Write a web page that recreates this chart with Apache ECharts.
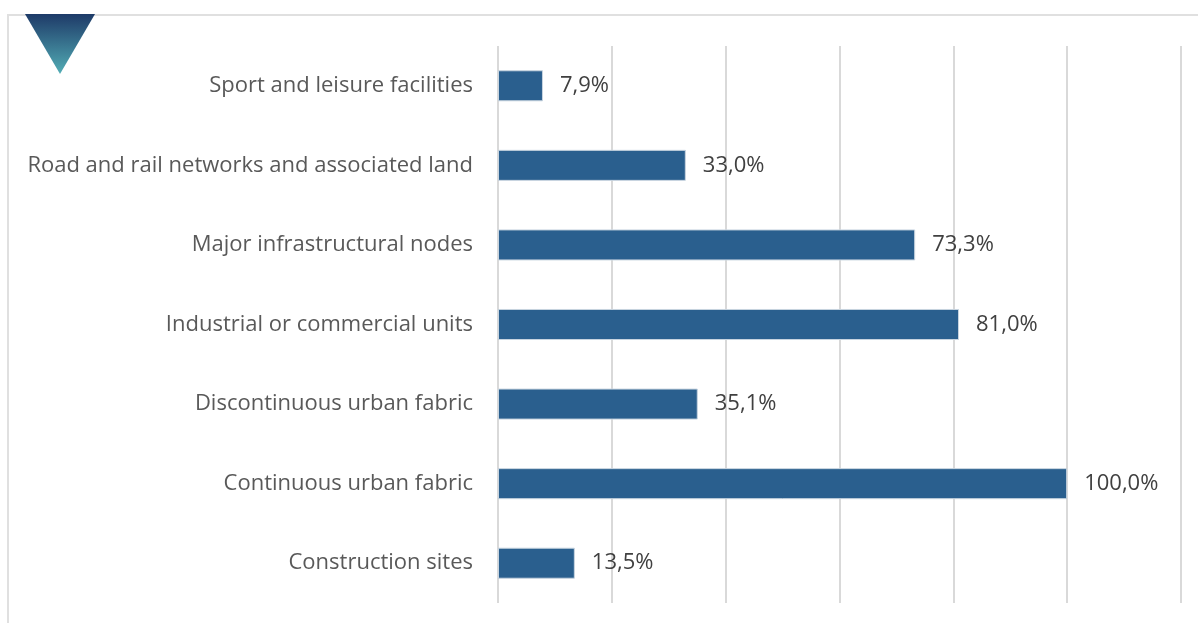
<!DOCTYPE html>
<html>
<head>
<meta charset="utf-8">
<script src="https://cdn.jsdelivr.net/npm/echarts@6/dist/echarts.min.js"></script>
<style>
  html, body { margin: 0; padding: 0; background: #fff; }
  #chart { width: 1198px; height: 623px; }
</style>
</head>
<body>
<div id="chart"></div>
<script>
// categories listed bottom to top (category axis runs upward)
var categories = [
    'Construction sites',
    'Continuous urban fabric',
    'Discontinuous urban fabric',
    'Industrial or commercial units',
    'Major infrastructural nodes',
    'Road and rail networks and associated land',
    'Sport and leisure facilities'
];
var values = [13.5, 100.0, 35.1, 81.0, 73.3, 33.0, 7.9];

var chart = echarts.init(document.getElementById('chart'));

var fmt = function (v) {
    return v.toFixed(1).replace('.', ',') + '%';
};

var option = {
    animation: false,
    textStyle: { fontFamily: 'Open Sans' },
    grid: { left: 498, right: 17, top: 46, bottom: 20 },
    xAxis: {
        type: 'value',
        min: 0,
        max: 120,
        interval: 20,
        axisLabel: { show: false },
        axisLine: { show: false },
        axisTick: { show: false },
        splitLine: { lineStyle: { color: '#d9d9d9', width: 2 } }
    },
    yAxis: {
        type: 'category',
        data: categories,
        axisLine: { show: false },
        axisTick: { show: false },
        axisLabel: { color: '#595959', fontSize: 22, margin: 25, padding: [8, 0, 0, 0] }
    },
    series: [{
        type: 'bar',
        data: values,
        barWidth: '39%',
        itemStyle: { color: '#2a5f8e', borderColor: '#c9d5e0', borderWidth: 1 },
        label: {
            show: true,
            position: 'right',
            distance: 17,
            color: '#404040',
            fontSize: 22,
            padding: [8, 0, 0, 0],
            formatter: function (p) { return fmt(p.value); }
        }
    }],
    graphic: [
        {
            type: 'polyline',
            shape: { points: [[8, 623], [8, 15], [1198, 15]] },
            style: { stroke: '#e0e0e0', lineWidth: 2, fill: null },
            z: 0
        },
        {
            type: 'polygon',
            shape: { points: [[25, 14], [95, 14], [60, 74]] },
            style: {
                fill: new echarts.graphic.LinearGradient(0, 0, 0, 1, [
                    { offset: 0, color: '#1e3a68' },
                    { offset: 1, color: '#52adb5' }
                ])
            },
            z: 10
        }
    ]
};

chart.setOption(option);
</script>
</body>
</html>
